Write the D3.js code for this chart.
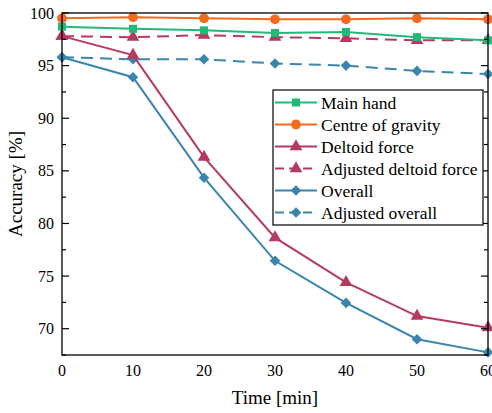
<!DOCTYPE html>
<html>
<head>
<meta charset="utf-8">
<script src="https://cdn.jsdelivr.net/npm/d3@7"></script>
<style>
  body { margin: 0; background: #fff; }
  svg text { font-family: "Liberation Serif", "Times New Roman", "DejaVu Serif", serif; }
</style>
</head>
<body>
<div id="chart"></div>
<script>
// data
const TIMES = [0, 10, 20, 30, 40, 50, 60];
const MAIN_HAND = [98.7, 98.5, 98.35, 98.1, 98.2, 97.7, 97.4];
const CENTRE_GRAVITY = [99.5, 99.6, 99.5, 99.4, 99.4, 99.5, 99.4];
const DELTOID = [97.8, 96.0, 86.3, 78.65, 74.4, 71.2, 70.1];
const ADJ_DELTOID = [97.8, 97.7, 97.9, 97.7, 97.6, 97.4, 97.4];
const OVERALL = [95.8, 93.9, 84.35, 76.45, 72.45, 69.0, 67.75];
const ADJ_OVERALL = [95.8, 95.6, 95.6, 95.2, 95.0, 94.5, 94.2];
const X_TICKS = [0, 10, 20, 30, 40, 50, 60];
const Y_TICKS = [70, 75, 80, 85, 90, 95, 100];

const FRAME_WIDTH = 492;
const FRAME_HEIGHT = 413;
const MARGINS = {left: 62, right: 4, top: 13, bottom: 58};
const FONT = "'Liberation Serif', 'Times New Roman', 'DejaVu Serif', serif";

const VIS_WIDTH = FRAME_WIDTH - MARGINS.left - MARGINS.right;
const VIS_HEIGHT = FRAME_HEIGHT - MARGINS.top - MARGINS.bottom;

const svg = d3.select("#chart")
  .append("svg")
    .attr("width", FRAME_WIDTH)
    .attr("height", FRAME_HEIGHT)
    .attr("font-family", FONT);

const X_SCALE = d3.scaleLinear().domain([0, 60]).range([0, VIS_WIDTH]);
const Y_SCALE = d3.scaleLinear().domain([67.5, 100]).range([VIS_HEIGHT, 0]);

const g = svg.append("g")
  .attr("transform", "translate(" + MARGINS.left + "," + MARGINS.top + ")");

// series setup
const SERIES = [
  {name: "Main hand", values: MAIN_HAND, color: "#22b978", marker: "square", dash: null},
  {name: "Centre of gravity", values: CENTRE_GRAVITY, color: "#f26b1d", marker: "circle", dash: null},
  {name: "Deltoid force", values: DELTOID, color: "#b6395f", marker: "triangle", dash: null},
  {name: "Adjusted deltoid force", values: ADJ_DELTOID, color: "#b6395f", marker: "triangle", dash: "12,7"},
  {name: "Overall", values: OVERALL, color: "#3a85ad", marker: "diamond", dash: null},
  {name: "Adjusted overall", values: ADJ_OVERALL, color: "#3a85ad", marker: "diamond", dash: "12,7"}
];

function markerPath(type) {
  if (type === "square") return d3.symbol().type(d3.symbolSquare).size(64)();
  if (type === "circle") return d3.symbol().type(d3.symbolCircle).size(75)();
  if (type === "triangle") return d3.symbol().type(d3.symbolTriangle).size(70)();
  return d3.symbol().type(d3.symbolSquare).size(56)();
}
// diamonds are squares turned 45 degrees
function markerRot(type) {
  return type === "diamond" ? " rotate(45)" : "";
}

const line = d3.line()
  .x((d, i) => X_SCALE(TIMES[i]))
  .y((d) => Y_SCALE(d));

// draw series, bottom ones first
const ORDER = [5, 4, 3, 2, 0, 1];
ORDER.forEach((k) => {
  const s = SERIES[k];
  g.append("path")
    .datum(s.values)
    .attr("d", line)
    .attr("fill", "none")
    .attr("stroke", s.color)
    .attr("stroke-width", 2)
    .attr("stroke-dasharray", s.dash);
  g.selectAll(null)
    .data(s.values)
    .enter()
    .append("path")
      .attr("d", markerPath(s.marker))
      .attr("transform", (d, i) => "translate(" + X_SCALE(TIMES[i]) + "," + Y_SCALE(d) + ")" + markerRot(s.marker))
      .attr("fill", s.color);
});

// frame
g.append("rect")
  .attr("width", VIS_WIDTH)
  .attr("height", VIS_HEIGHT)
  .attr("fill", "none")
  .attr("stroke", "#000")
  .attr("stroke-width", 1.3);

// y axis: inward ticks on left and right
const minorY = d3.range(67.5, 100.01, 2.5).filter((v) => Y_TICKS.indexOf(v) < 0);
const yTicks = g.append("g").attr("stroke", "#000").attr("stroke-width", 1.2);
Y_TICKS.forEach((v) => {
  yTicks.append("line").attr("x1", 0).attr("x2", 7).attr("y1", Y_SCALE(v)).attr("y2", Y_SCALE(v));
  yTicks.append("line").attr("x1", VIS_WIDTH).attr("x2", VIS_WIDTH - 7).attr("y1", Y_SCALE(v)).attr("y2", Y_SCALE(v));
});
minorY.forEach((v) => {
  yTicks.append("line").attr("x1", 0).attr("x2", 4).attr("y1", Y_SCALE(v)).attr("y2", Y_SCALE(v));
  yTicks.append("line").attr("x1", VIS_WIDTH).attr("x2", VIS_WIDTH - 4).attr("y1", Y_SCALE(v)).attr("y2", Y_SCALE(v));
});

g.selectAll(".ylab")
  .data(Y_TICKS)
  .enter()
  .append("text")
    .attr("x", -8)
    .attr("y", (d) => Y_SCALE(d))
    .attr("dy", "0.35em")
    .attr("text-anchor", "end")
    .attr("font-size", "16px")
    .text((d) => d);

g.selectAll(".xlab")
  .data(X_TICKS)
  .enter()
  .append("text")
    .attr("x", (d) => X_SCALE(d))
    .attr("y", VIS_HEIGHT + 21)
    .attr("text-anchor", "middle")
    .attr("font-size", "16px")
    .text((d) => d);

// axis titles
g.append("text")
  .attr("x", VIS_WIDTH / 2)
  .attr("y", VIS_HEIGHT + 49)
  .attr("text-anchor", "middle")
  .attr("font-size", "19px")
  .text("Time [min]");

g.append("text")
  .attr("transform", "translate(" + (-40) + "," + (VIS_HEIGHT / 2) + ") rotate(-90)")
  .attr("text-anchor", "middle")
  .attr("font-size", "19px")
  .text("Accuracy [%]");

// legend
const LEG_X = 273 - MARGINS.left;
const LEG_Y = 90 - MARGINS.top;
const legend = g.append("g").attr("transform", "translate(" + LEG_X + "," + LEG_Y + ")");
legend.append("rect")
  .attr("width", 210)
  .attr("height", 135)
  .attr("fill", "#fff")
  .attr("stroke", "#000")
  .attr("stroke-width", 1.2);

SERIES.forEach((s, i) => {
  const yy = 12.5 + i * 22;
  legend.append("line")
    .attr("x1", 2).attr("x2", 44)
    .attr("y1", yy).attr("y2", yy)
    .attr("stroke", s.color)
    .attr("stroke-width", 2)
    .attr("stroke-dasharray", s.dash ? "9,5" : null);
  legend.append("path")
    .attr("d", markerPath(s.marker))
    .attr("transform", "translate(23," + yy + ")" + markerRot(s.marker))
    .attr("fill", s.color);
  legend.append("text")
    .attr("x", 48)
    .attr("y", yy)
    .attr("dy", "0.35em")
    .attr("font-size", "17.5px")
    .text(s.name);
});
</script>
</body>
</html>
